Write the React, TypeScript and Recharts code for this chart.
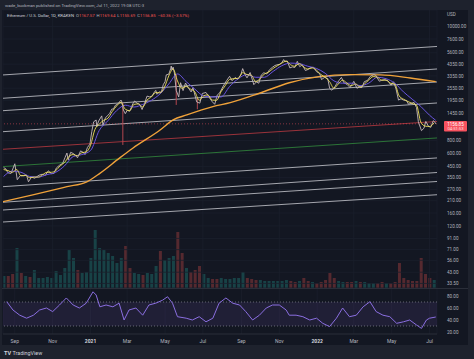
import React from 'react';
import { ComposedChart, LineChart, BarChart, Line, Bar, Cell, XAxis, YAxis, CartesianGrid, ReferenceLine, ReferenceArea } from 'recharts';

const toDay = (s: string) => Date.UTC(+s.slice(0, 4), +s.slice(5, 7) - 1, +s.slice(8, 10)) / 86400000;

const X_START = '2020-08-13';
const X_END = '2022-07-13';

const monthTickDates = ['2020-09-01', '2020-11-01', '2021-01-01', '2021-03-01', '2021-05-01', '2021-07-01', '2021-09-01', '2021-11-01', '2022-01-01', '2022-03-01', '2022-05-01', '2022-07-01'];
const monthTickLabels = ['Sep', 'Nov', '2021', 'Mar', 'May', 'Jul', 'Sep', 'Nov', '2022', 'Mar', 'May', 'Jul'];

const priceTicks = [10000, 7600, 5600, 4350, 3350, 2550, 1950, 1450, 800, 600, 450, 350, 270, 210, 160, 120, 91, 71, 56, 43, 33.5];
const priceDomain = [30.3, 14460];
const rsiTicks = [20, 40, 60, 80];

const priceDates = ['2020-08-14','2020-08-17','2020-08-21','2020-08-26','2020-09-01','2020-09-05','2020-09-10','2020-09-15','2020-09-20','2020-09-23','2020-09-28','2020-10-03','2020-10-10','2020-10-15','2020-10-20','2020-10-25','2020-10-30','2020-11-03','2020-11-07','2020-11-12','2020-11-17','2020-11-21','2020-11-24','2020-11-26','2020-11-30','2020-12-05','2020-12-11','2020-12-16','2020-12-21','2020-12-23','2020-12-27','2020-12-31','2021-01-03','2021-01-06','2021-01-10','2021-01-11','2021-01-14','2021-01-19','2021-01-21','2021-01-25','2021-01-28','2021-02-01','2021-02-04','2021-02-07','2021-02-10','2021-02-14','2021-02-19','2021-02-20','2021-02-23','2021-02-26','2021-03-01','2021-03-05','2021-03-10','2021-03-13','2021-03-17','2021-03-21','2021-03-25','2021-03-29','2021-04-02','2021-04-06','2021-04-10','2021-04-13','2021-04-16','2021-04-18','2021-04-22','2021-04-25','2021-04-28','2021-05-01','2021-05-03','2021-05-07','2021-05-10','2021-05-11','2021-05-12','2021-05-14','2021-05-16','2021-05-19','2021-05-23','2021-05-26','2021-05-30','2021-06-03','2021-06-07','2021-06-12','2021-06-15','2021-06-21','2021-06-26','2021-06-30','2021-07-06','2021-07-12','2021-07-16','2021-07-20','2021-07-24','2021-07-28','2021-08-01','2021-08-05','2021-08-08','2021-08-13','2021-08-17','2021-08-22','2021-08-26','2021-08-31','2021-09-03','2021-09-07','2021-09-10','2021-09-15','2021-09-21','2021-09-25','2021-09-29','2021-10-03','2021-10-07','2021-10-12','2021-10-16','2021-10-21','2021-10-25','2021-10-28','2021-11-01','2021-11-05','2021-11-08','2021-11-10','2021-11-14','2021-11-18','2021-11-22','2021-11-26','2021-11-30','2021-12-03','2021-12-04','2021-12-08','2021-12-13','2021-12-17','2021-12-21','2021-12-26','2021-12-31','2022-01-05','2022-01-08','2022-01-13','2022-01-18','2022-01-21','2022-01-24','2022-01-28','2022-02-01','2022-02-05','2022-02-09','2022-02-13','2022-02-18','2022-02-23','2022-02-26','2022-03-01','2022-03-06','2022-03-10','2022-03-14','2022-03-18','2022-03-23','2022-03-28','2022-04-02','2022-04-05','2022-04-11','2022-04-15','2022-04-20','2022-04-25','2022-04-30','2022-05-04','2022-05-08','2022-05-12','2022-05-16','2022-05-20','2022-05-25','2022-05-28','2022-06-01','2022-06-06','2022-06-10','2022-06-13','2022-06-18','2022-06-22','2022-06-25','2022-06-29','2022-07-03','2022-07-07','2022-07-09','2022-07-11'];
const priceClose = [437,430,390,385,477,335,368,365,370,320,355,346,370,378,368,408,383,385,435,462,480,550,605,520,615,595,545,635,610,585,685,737,975,1210,1260,1090,1230,1380,1120,1320,1380,1460,1600,1615,1745,1800,1960,1915,1570,1450,1560,1530,1800,1920,1825,1785,1590,1820,2140,2105,2140,2300,2430,2230,2360,2320,2750,2950,3430,3480,3920,4170,3830,4070,3590,2430,2100,2880,2420,2860,2590,2350,2580,1880,1830,2270,2320,2040,1890,1785,2190,2300,2560,2820,3010,3320,3010,3240,3100,3430,3940,3430,3210,3610,2760,2930,2850,3420,3590,3500,3830,4060,4220,4280,4320,4480,4810,4630,4650,4000,4090,4040,4630,4220,4110,4310,3780,3860,4020,4060,3680,3540,3090,3240,3160,2560,2440,2540,2790,3020,3240,2880,2780,2590,2770,2970,2550,2610,2590,2950,3030,3330,3450,3410,2980,3040,3080,3000,2730,2940,2510,1960,2020,1960,1940,1790,1820,1860,1660,1210,995,1050,1220,1100,1070,1240,1215,1157];

const weekDates = ['2020-08-14','2020-08-21','2020-08-28','2020-09-04','2020-09-11','2020-09-18','2020-09-25','2020-10-02','2020-10-09','2020-10-16','2020-10-23','2020-10-30','2020-11-06','2020-11-13','2020-11-20','2020-11-27','2020-12-04','2020-12-11','2020-12-18','2020-12-25','2021-01-01','2021-01-08','2021-01-15','2021-01-22','2021-01-29','2021-02-05','2021-02-12','2021-02-19','2021-02-26','2021-03-05','2021-03-12','2021-03-19','2021-03-26','2021-04-02','2021-04-09','2021-04-16','2021-04-23','2021-04-30','2021-05-07','2021-05-14','2021-05-21','2021-05-28','2021-06-04','2021-06-11','2021-06-18','2021-06-25','2021-07-02','2021-07-09','2021-07-16','2021-07-23','2021-07-30','2021-08-06','2021-08-13','2021-08-20','2021-08-27','2021-09-03','2021-09-10','2021-09-17','2021-09-24','2021-10-01','2021-10-08','2021-10-15','2021-10-22','2021-10-29','2021-11-05','2021-11-12','2021-11-19','2021-11-26','2021-12-03','2021-12-10','2021-12-17','2021-12-24','2021-12-31','2022-01-07','2022-01-14','2022-01-21','2022-01-28','2022-02-04','2022-02-11','2022-02-18','2022-02-25','2022-03-04','2022-03-11','2022-03-18','2022-03-25','2022-04-01','2022-04-08','2022-04-15','2022-04-22','2022-04-29','2022-05-06','2022-05-13','2022-05-20','2022-05-27','2022-06-03','2022-06-10','2022-06-17','2022-06-24','2022-07-01','2022-07-08'];
const yellowMA = [420,410,395,420,365,370,350,355,355,375,395,395,410,455,490,560,585,570,610,620,720,1020,1150,1250,1310,1520,1720,1860,1600,1550,1780,1800,1680,1960,2100,2320,2300,2600,3350,3900,3000,2550,2650,2500,2350,1950,2150,2200,1960,1950,2350,2700,3100,3150,3180,3600,3450,3400,2950,3150,3500,3650,3950,4200,4450,4650,4300,4150,4400,4100,3900,4000,3800,3450,3250,2950,2550,2800,3050,2850,2700,2800,2620,2800,3050,3300,3250,3050,3050,2850,2800,2150,2000,1900,1820,1750,1200,1100,1090,1180];
const volumeK = [60,60,70,200,75,60,55,90,50,50,55,50,85,65,100,190,150,90,75,80,150,290,200,190,175,160,125,150,210,100,75,70,65,75,70,110,185,140,150,160,280,175,100,80,90,110,70,50,45,45,50,45,45,50,50,80,50,45,40,40,35,35,35,35,35,40,35,30,35,50,35,30,25,30,40,75,50,35,30,30,30,35,30,30,25,25,25,30,25,25,30,125,50,40,35,35,150,70,50,40];

const purpleDates = ['2020-08-14','2020-08-28','2020-09-11','2020-09-25','2020-10-09','2020-10-23','2020-11-06','2020-11-20','2020-12-04','2020-12-18','2021-01-01','2021-01-15','2021-01-29','2021-02-12','2021-02-26','2021-03-12','2021-03-26','2021-04-09','2021-04-23','2021-05-07','2021-05-21','2021-06-04','2021-06-18','2021-07-02','2021-07-16','2021-07-30','2021-08-13','2021-08-27','2021-09-10','2021-09-24','2021-10-08','2021-10-22','2021-11-05','2021-11-19','2021-12-03','2021-12-17','2021-12-31','2022-01-14','2022-01-28','2022-02-11','2022-02-25','2022-03-11','2022-03-25','2022-04-08','2022-04-22','2022-05-06','2022-05-20','2022-06-03','2022-06-17','2022-07-01','2022-07-11'];
const purpleMA = [360,405,395,360,355,375,395,455,560,585,640,1000,1240,1550,1750,1680,1780,1950,2250,2800,3500,2950,2500,2150,2100,2100,2650,3150,3450,3250,3250,3700,4200,4450,4400,4150,3950,3550,3000,2850,2850,2700,2850,3250,3150,2850,2350,2000,1700,1400,1250];

const orangeDates = ['2020-08-13','2020-09-30','2020-11-24','2020-12-26','2021-01-16','2021-02-17','2021-03-10','2021-04-23','2021-05-14','2021-06-05','2021-07-17','2021-08-14','2021-09-30','2021-11-17','2022-01-04','2022-02-23','2022-04-13','2022-05-31','2022-07-11'];
const orangeMA = [206,239,287,320,386,543,673,1009,1262,1409,1694,1850,2280,2880,3300,3450,3430,3200,2950];

const channelStart = [3423, 2040, 1549, 972, 658, 448, 287, 203, 171, 131];
const channelEnd = [6440, 3908, 2929, 1838, 1219, 846, 543, 393, 322, 240];
const channelKinds = ['white', 'white', 'white', 'white', 'red', 'green', 'white', 'white', 'white', 'white'];

const wickDates = ['2021-02-22', '2021-05-19', '2021-06-22'];
const wickHigh = [1850, 3450, 2050];
const wickLow = [724, 1760, 1600];

const rsiDates = ['2020-08-19','2020-08-29','2020-09-09','2020-09-20','2020-10-01','2020-10-11','2020-10-22','2020-11-01','2020-11-12','2020-11-23','2020-12-04','2020-12-14','2020-12-25','2021-01-05','2021-01-10','2021-01-16','2021-01-26','2021-02-06','2021-02-16','2021-02-24','2021-03-04','2021-03-15','2021-03-26','2021-04-05','2021-04-16','2021-04-27','2021-05-05','2021-05-13','2021-05-21','2021-06-04','2021-06-14','2021-06-25','2021-07-06','2021-07-17','2021-07-27','2021-08-07','2021-08-18','2021-08-29','2021-09-08','2021-09-19','2021-09-30','2021-10-11','2021-10-21','2021-11-01','2021-11-12','2021-11-17','2021-11-28','2021-12-09','2021-12-20','2021-12-31','2022-01-10','2022-01-21','2022-02-01','2022-02-11','2022-02-22','2022-03-05','2022-03-16','2022-03-27','2022-04-06','2022-04-17','2022-04-28','2022-05-09','2022-05-20','2022-05-30','2022-06-10','2022-06-18','2022-06-26','2022-07-01','2022-07-11'];
const rsiValues = [70.5,56.7,48,43,48,56.7,60,54,65,76.7,65,60,68,87,81.7,62,65,62,68,40,56.7,60,48,65,68,73,78.8,68,45.5,43,40,45.5,37,43,68,76.7,68,65,54,40,48,60,65,65,56.7,48,48,45.5,40,43,34.5,29,43,60,45.5,48,62,70.5,54,48,45.5,34.5,37,40,31.7,26,40,43,45];

const headerLine1 = 'wade_buckman published on TradingView.com, Jul 11, 2022 19:08 UTC-3';
const symbolTitle = 'Ethereum / U.S. Dollar, 1D, KRAKEN';
const ohlc = [['O', '1167.57'], ['H', '1169.64'], ['L', '1155.69'], ['C', '1156.85']];
const changeText = '−60.36 (−3.57%)';
const lastClose = 1157;
const lastCloseLabel = '1156.85';
const countdown = '04:51:53';

const X0 = toDay(X_START);
const X1 = toDay(X_END);
const monthTicks = monthTickDates.map(toDay);

const rowMap = new Map<number, any>();
const put = (dates: string[], vals: number[], key: string) => {
  dates.forEach((s, i) => {
    const d = toDay(s);
    const r = rowMap.get(d) || { d };
    r[key] = vals[i];
    rowMap.set(d, r);
  });
};
put(priceDates, priceClose, 'close');
put(weekDates, yellowMA, 'yellow');
put(purpleDates, purpleMA, 'purple');
put(orangeDates, orangeMA, 'orange');
const priceRows = Array.from(rowMap.values()).sort((a, b) => a.d - b.d);
const volRows = weekDates.map((s, i) => ({ d: toDay(s), vol: volumeK[i], up: i === 0 || yellowMA[i] >= yellowMA[i - 1] }));
const rsiRows = rsiDates.map((s, i) => ({ d: toDay(s), v: rsiValues[i] }));

const FONT = 'Roboto, "DejaVu Sans", sans-serif';
const AXIS_TXT = '#b2b5be';

const PriceTick = (props: any) => {
  const { x, y, payload } = props;
  return (
    <text x={x} y={y + 1.6} fontSize={4.6} fill={AXIS_TXT} fontFamily={FONT} textAnchor="start">
      {Number(payload.value).toFixed(2)}
    </text>
  );
};

const DateTick = (props: any) => {
  const { x, y, payload } = props;
  const i = monthTicks.indexOf(payload.value);
  const label = monthTickLabels[i] ?? '';
  const bold = /^\d{4}$/.test(label);
  return (
    <text x={x} y={y + 8.6} fontSize={5} fill={bold ? '#d1d4dc' : AXIS_TXT} fontWeight={bold ? 700 : 400} fontFamily={FONT} textAnchor="middle">
      {label}
    </text>
  );
};

const PriceTag = (props: any) => {
  const vb = props.viewBox || {};
  const x = vb.x + vb.width + 7;
  const y = vb.y;
  return (
    <g>
      <rect x={x} y={y - 2.8} width={23} height={10.5} fill="#f7525f" rx={1} />
      <text x={x + 11.5} y={y + 2.2} fontSize={4.5} fill="#ffffff" textAnchor="middle" fontFamily={FONT}>{lastCloseLabel}</text>
      <text x={x + 11.5} y={y + 6.6} fontSize={4.2} fill="#ffe0e3" textAnchor="middle" fontFamily={FONT}>{countdown}</text>
    </g>
  );
};

const channelColor = (k: string) => (k === 'red' ? '#a8353d' : k === 'green' ? '#2f7d3a' : '#c9cbd1');

export default function App() {
  return (
    <div style={{ position: 'relative', width: 474, height: 359, background: '#1e222d', overflow: 'hidden', fontFamily: FONT }}>
      <style>{'html,body{margin:0;padding:0;background:#1e222d;}'}</style>
      <div style={{ position: 'absolute', left: 2, top: 10, width: 466, height: 335, background: '#131722' }} />
      <div style={{ position: 'absolute', left: 0, top: 10 }}>
        <BarChart width={474} height={278} data={volRows} margin={{ top: 0, right: 37, bottom: 0, left: 3 }}>
          <XAxis dataKey="d" type="number" domain={[X0, X1]} hide allowDataOverflow />
          <YAxis hide type="number" domain={[0, 1390]} allowDataOverflow />
          <Bar dataKey="vol" barSize={3} isAnimationActive={false}>
            {volRows.map((r, i) => (
              <Cell key={i} fill={r.up ? '#26a69a' : '#ef5350'} fillOpacity={0.3} />
            ))}
          </Bar>
        </BarChart>
      </div>
      <div style={{ position: 'absolute', left: 0, top: 10 }}>
        <ComposedChart width={474} height={278} data={priceRows} margin={{ top: 0, right: 0, bottom: 0, left: 3 }}>
          <CartesianGrid yAxisId="p" stroke="#1b1f2c" strokeWidth={0.8} />
          <XAxis dataKey="d" type="number" domain={[X0, X1]} ticks={monthTicks} hide allowDataOverflow />
          <YAxis yAxisId="p" orientation="right" scale="log" type="number" domain={priceDomain} allowDataOverflow ticks={priceTicks} interval={0} tick={<PriceTick />} tickSize={0} tickMargin={10} axisLine={false} tickLine={false} width={37} />
          {channelStart.map((v, i) => (
            <ReferenceLine key={'ch' + i} yAxisId="p" segment={[{ x: X0, y: v }, { x: X1, y: channelEnd[i] }]} stroke={channelColor(channelKinds[i])} strokeWidth={1} strokeOpacity={channelKinds[i] === 'white' ? 0.8 : 0.9} />
          ))}
          {wickDates.map((s, i) => (
            <ReferenceLine key={'w' + i} yAxisId="p" segment={[{ x: toDay(s), y: wickHigh[i] }, { x: toDay(s), y: wickLow[i] }]} stroke="#b3474f" strokeWidth={1} />
          ))}
          <ReferenceLine yAxisId="p" y={lastClose} stroke="#f7525f" strokeOpacity={0.5} strokeDasharray="1 2" label={<PriceTag />} />
          <Line yAxisId="p" dataKey="orange" type="monotone" stroke="#f0a23a" strokeWidth={1.4} dot={false} connectNulls isAnimationActive={false} />
          <Line yAxisId="p" dataKey="close" type="linear" stroke="#c7b9bb" strokeWidth={1} strokeOpacity={0.9} dot={false} connectNulls isAnimationActive={false} />
          <Line yAxisId="p" dataKey="purple" type="monotone" stroke="#6a55e0" strokeWidth={1} dot={false} connectNulls isAnimationActive={false} />
          <Line yAxisId="p" dataKey="yellow" type="monotone" stroke="#f2e15a" strokeWidth={0.9} dot={false} connectNulls isAnimationActive={false} />
        </ComposedChart>
      </div>
      <div style={{ position: 'absolute', left: 0, top: 288 }}>
        <LineChart width={474} height={58} data={rsiRows} margin={{ top: 1, right: 0, bottom: 0, left: 3 }}>
          <CartesianGrid stroke="#1b1f2c" strokeWidth={0.8} horizontal={false} />
          <XAxis dataKey="d" type="number" domain={[X0, X1]} ticks={monthTicks} interval={0} tick={<DateTick />} tickSize={0} tickMargin={0} height={12} axisLine={{ stroke: '#2a2e39' }} tickLine={false} allowDataOverflow />
          <YAxis orientation="right" type="number" domain={[16.67, 91.67]} allowDataOverflow ticks={rsiTicks} interval={0} tick={<PriceTick />} tickSize={0} tickMargin={10} axisLine={false} tickLine={false} width={37} />
          <ReferenceArea y1={30} y2={70} fill="#7e57c2" fillOpacity={0.13} stroke="none" />
          <ReferenceLine y={70} stroke="#787b86" strokeDasharray="1 2" strokeOpacity={0.8} />
          <ReferenceLine y={30} stroke="#787b86" strokeDasharray="1 2" strokeOpacity={0.8} />
          <Line dataKey="v" type="linear" stroke="#8a6ee0" strokeWidth={1} dot={false} isAnimationActive={false} />
        </LineChart>
      </div>
      <svg width={474} height={359} style={{ position: 'absolute', left: 0, top: 0, pointerEvents: 'none' }}>
        <line x1={2} x2={468} y1={288.5} y2={288.5} stroke="#2a2e39" strokeWidth={1} />
        <text x={5} y={6.6} fontSize={4.3} fill="#b2b5be" fontFamily={FONT}>{headerLine1}</text>
        <text x={7} y={16.6} fontSize={4.3} fontFamily={FONT}>
          <tspan fill="#d1d4dc">{symbolTitle}</tspan>
          {ohlc.map(([k, v]) => (
            <React.Fragment key={k}>
              <tspan fill="#b2b5be" dx={2}>{k}</tspan>
              <tspan fill="#ef5350">{v}</tspan>
            </React.Fragment>
          ))}
          <tspan fill="#ef5350" dx={2}>{changeText}</tspan>
        </text>
        <text x={447} y={15.6} fontSize={4.6} fill="#b2b5be" fontFamily={FONT}>USD</text>
        <text x={4} y={355} fontSize={5.6} fill="#d1d4dc" fontFamily={FONT} fontWeight={700}>TV</text>
        <text x={12.5} y={355} fontSize={5.4} fill="#d1d4dc" fontFamily={FONT}>TradingView</text>
      </svg>
    </div>
  );
}
